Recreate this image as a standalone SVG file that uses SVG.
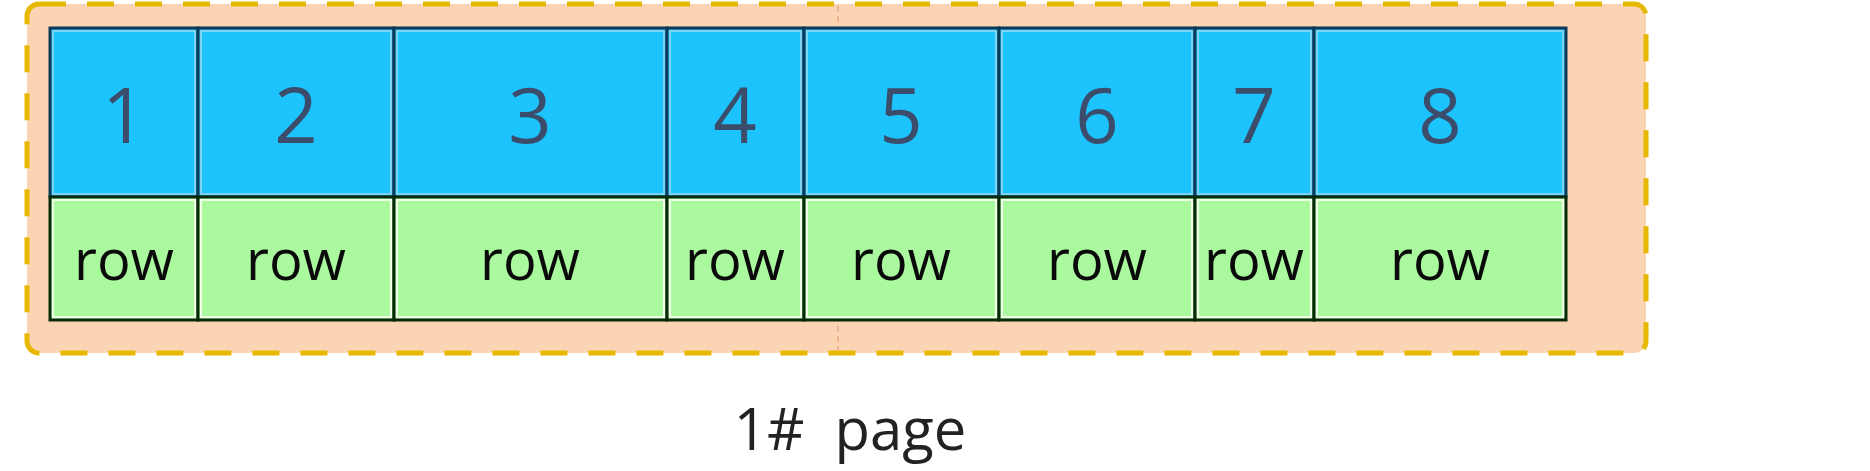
<svg xmlns="http://www.w3.org/2000/svg" width="1870" height="471" viewBox="0 0 1870 471">
<style>
.num{font-family:"Open Sans","Noto Sans",sans-serif;font-size:76px;fill:#3b4d6b;text-anchor:middle}
.row{font-family:"Open Sans","Noto Sans",sans-serif;font-size:56px;fill:#0a0a0a;text-anchor:middle}
.lbl{font-family:"Open Sans","Noto Sans",sans-serif;font-size:58px;fill:#222;text-anchor:middle}
.hd{fill:#1cc3fd;stroke:#0b3a58;stroke-width:3}
.bd{fill:#abf99f;stroke:#0b2a0b;stroke-width:3}
.hdi{fill:none;stroke:#7fd3f2;stroke-width:2}
.bdi{fill:none;stroke:#effde9;stroke-width:2}
</style>
<rect width="1870" height="471" fill="#ffffff"/>
<g id="page">
<rect x="27" y="4" width="1619" height="349" rx="12" fill="#fad4b3" stroke="#e6b900" stroke-width="5" stroke-dasharray="27 21"/>
<line x1="838" y1="6" x2="838" y2="351" stroke="#e59a78" stroke-width="1.5" stroke-dasharray="6 4" opacity="0.7"/>
</g>
<g id="col1"><rect class="hd" x="50" y="28" width="148" height="169"/><rect class="hdi" x="53" y="31" width="142" height="163"/><text class="num" x="124" y="143">1</text><rect class="bd" x="50" y="197" width="148" height="123"/><rect class="bdi" x="53" y="200" width="142" height="117"/><text class="row" x="124" y="280">row</text></g>
<g id="col2"><rect class="hd" x="198" y="28" width="196" height="169"/><rect class="hdi" x="201" y="31" width="190" height="163"/><text class="num" x="296" y="143">2</text><rect class="bd" x="198" y="197" width="196" height="123"/><rect class="bdi" x="201" y="200" width="190" height="117"/><text class="row" x="296" y="280">row</text></g>
<g id="col3"><rect class="hd" x="394" y="28" width="273" height="169"/><rect class="hdi" x="397" y="31" width="267" height="163"/><text class="num" x="530" y="143">3</text><rect class="bd" x="394" y="197" width="273" height="123"/><rect class="bdi" x="397" y="200" width="267" height="117"/><text class="row" x="530" y="280">row</text></g>
<g id="col4"><rect class="hd" x="667" y="28" width="137" height="169"/><rect class="hdi" x="670" y="31" width="131" height="163"/><text class="num" x="735" y="143">4</text><rect class="bd" x="667" y="197" width="137" height="123"/><rect class="bdi" x="670" y="200" width="131" height="117"/><text class="row" x="735" y="280">row</text></g>
<g id="col5"><rect class="hd" x="804" y="28" width="195" height="169"/><rect class="hdi" x="807" y="31" width="189" height="163"/><text class="num" x="901" y="143">5</text><rect class="bd" x="804" y="197" width="195" height="123"/><rect class="bdi" x="807" y="200" width="189" height="117"/><text class="row" x="901" y="280">row</text></g>
<g id="col6"><rect class="hd" x="999" y="28" width="196" height="169"/><rect class="hdi" x="1002" y="31" width="190" height="163"/><text class="num" x="1097" y="143">6</text><rect class="bd" x="999" y="197" width="196" height="123"/><rect class="bdi" x="1002" y="200" width="190" height="117"/><text class="row" x="1097" y="280">row</text></g>
<g id="col7"><rect class="hd" x="1195" y="28" width="119" height="169"/><rect class="hdi" x="1198" y="31" width="113" height="163"/><text class="num" x="1254" y="143">7</text><rect class="bd" x="1195" y="197" width="119" height="123"/><rect class="bdi" x="1198" y="200" width="113" height="117"/><text class="row" x="1254" y="280">row</text></g>
<g id="col8"><rect class="hd" x="1314" y="28" width="252" height="169"/><rect class="hdi" x="1317" y="31" width="246" height="163"/><text class="num" x="1440" y="143">8</text><rect class="bd" x="1314" y="197" width="252" height="123"/><rect class="bdi" x="1317" y="200" width="246" height="117"/><text class="row" x="1440" y="280">row</text></g>
<g id="caption"><text class="lbl" x="850" y="450" xml:space="preserve">1#  page</text></g>
</svg>
